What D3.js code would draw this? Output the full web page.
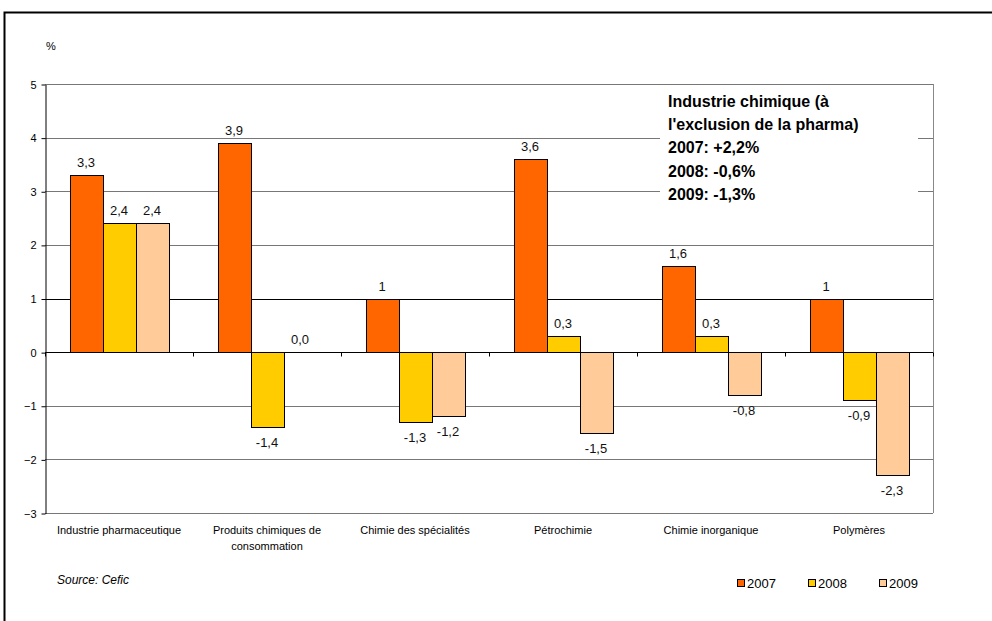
<!DOCTYPE html>
<html>
<head>
<meta charset="utf-8">
<script src="https://cdn.jsdelivr.net/npm/d3@7"></script>
<style>
body { margin: 0; background: #fff; }
svg { font-family: Arial, 'Liberation Sans', sans-serif; }
</style>
</head>
<body>
<script>
var categories = [['Industrie pharmaceutique'], ['Produits chimiques de', 'consommation'], ['Chimie des spécialités'], ['Pétrochimie'], ['Chimie inorganique'], ['Polymères']]
var years = ['2007', '2008', '2009']
var values2007 = [3.3, 3.9, 1, 3.6, 1.6, 1]
var values2008 = [2.4, -1.4, -1.3, 0.3, 0.3, -0.9]
var values2009 = [2.4, 0.0, -1.2, -1.5, -0.8, -2.3]
var labels2007 = ['3,3', '3,9', '1', '3,6', '1,6', '1']
var labels2008 = ['2,4', '-1,4', '-1,3', '0,3', '0,3', '-0,9']
var labels2009 = ['2,4', '0,0', '-1,2', '-1,5', '-0,8', '-2,3']
var yTicks = [5, 4, 3, 2, 1, 0, -1, -2, -3]
var noteLines = ['Industrie chimique (à', "l'exclusion de la pharma)", '2007: +2,2%', '2008: -0,6%', '2009: -1,3%']

var series = [values2007, values2008, values2009]
var seriesLabels = [labels2007, labels2008, labels2009]
var colors = d3.scaleOrdinal().domain(years).range(['#FF6600', '#FFCC00', '#FFCC99'])

var _width = 992, _height = 621
var _left = 45, _right = 933, _top = 84, _bottom = 513

var svg = d3.select('body').append('svg')
    .attr('width', _width)
    .attr('height', _height)

// cadre extérieur
svg.append('path')
    .attr('d', 'M4.5,' + _height + ' L4.5,12.5 L' + _width + ',12.5')
    .attr('fill', 'none')
    .attr('stroke', '#000')
    .attr('stroke-width', 2)

var y = d3.scaleLinear().domain([-3, 5]).range([_bottom, _top])
var x0 = d3.scaleBand().domain(d3.range(categories.length)).range([_left, _right])
    .paddingInner(0).paddingOuter(0)
var x1 = d3.scaleBand().domain(years).range([24.5, x0.bandwidth() - 24.5])

// grille
svg.append('g').selectAll('line')
    .data(yTicks.filter(d => d !== 0))
    .enter().append('line')
    .attr('x1', _left).attr('x2', _right)
    .attr('y1', d => Math.round(y(d)) + 0.5).attr('y2', d => Math.round(y(d)) + 0.5)
    .attr('stroke', d => d === 1 ? '#000' : '#777')
    .attr('stroke-width', 1)

// bord droit zone de tracé
svg.append('line')
    .attr('x1', _right + 0.5).attr('x2', _right + 0.5)
    .attr('y1', _top).attr('y2', _bottom)
    .attr('stroke', '#888')

// axe Y
var yAxis = svg.append('g')
    .attr('transform', 'translate(' + (_left + 0.5) + ',0.5)')
    .call(d3.axisLeft(y).tickValues(yTicks).tickSize(4).tickSizeOuter(0).tickPadding(5).tickFormat(d3.format('d')))
yAxis.select('.domain').attr('stroke', '#000')
yAxis.selectAll('text').attr('font-size', 11).attr('fill', '#000')
yAxis.selectAll('.tick line').attr('stroke', '#000')

svg.append('text')
    .attr('x', 46).attr('y', 50)
    .attr('font-size', 11)
    .text('%')

// barres
var groups = svg.append('g').selectAll('g.cat')
    .data(categories.map((c, i) => i))
    .enter().append('g')
    .attr('class', 'cat')
    .attr('transform', i => 'translate(' + x0(i) + ',0)')

groups.selectAll('rect')
    .data(i => years.map((yr, k) => ({ year: yr, value: series[k][i], label: seriesLabels[k][i] })))
    .enter().append('rect')
    .attr('x', d => Math.round(x1(d.year)) + 0.5)
    .attr('width', Math.round(x1.bandwidth()))
    .attr('y', d => Math.round(y(Math.max(0, d.value))) + 0.5)
    .attr('height', d => Math.abs(Math.round(y(d.value)) - Math.round(y(0))))
    .attr('fill', d => colors(d.year))
    .attr('stroke', d => d.value === 0 ? 'none' : '#000')
    .attr('stroke-width', 1)

groups.selectAll('text.val')
    .data(i => years.map((yr, k) => ({ year: yr, value: series[k][i], label: seriesLabels[k][i] })))
    .enter().append('text')
    .attr('class', 'val')
    .attr('x', d => x1(d.year) + x1.bandwidth() / 2)
    .attr('y', d => d.value >= 0 ? y(d.value) - 8 : y(d.value) + 20)
    .attr('text-anchor', 'middle')
    .attr('font-size', 13)
    .attr('fill', '#111')
    .text(d => d.label)

// axe X au niveau de zéro
var xAxis = svg.append('g')
    .attr('transform', 'translate(0,' + (Math.round(y(0)) + 0.5) + ')')
xAxis.append('line')
    .attr('x1', _left).attr('x2', _right)
    .attr('stroke', '#000')
xAxis.selectAll('line.tick')
    .data(d3.range(categories.length + 1))
    .enter().append('line')
    .attr('class', 'tick')
    .attr('x1', i => Math.round(_left + i * x0.step()) + 0.5)
    .attr('x2', i => Math.round(_left + i * x0.step()) + 0.5)
    .attr('y1', 0).attr('y2', 4)
    .attr('stroke', '#000')

// libellés catégories
svg.append('g').selectAll('text')
    .data(categories)
    .enter().append('text')
    .attr('x', (d, i) => x0(i) + x0.bandwidth() / 2)
    .attr('y', 534)
    .attr('text-anchor', 'middle')
    .attr('font-size', 11)
    .each(function (d) {
        d3.select(this).selectAll('tspan')
            .data(d)
            .enter().append('tspan')
            .attr('x', d3.select(this).attr('x'))
            .attr('dy', (t, j) => j === 0 ? 0 : 16)
            .text(t => t)
    })

// encadré
var noteG = svg.append('g')
noteG.append('rect')
    .attr('x', 660).attr('y', 88)
    .attr('width', 258).attr('height', 118)
    .attr('fill', '#fff')
noteG.selectAll('text')
    .data(noteLines)
    .enter().append('text')
    .attr('x', 668)
    .attr('y', (d, i) => 107 + i * 23.2)
    .attr('font-size', 16)
    .attr('font-weight', 'bold')
    .text(d => d)

// source
svg.append('text')
    .attr('x', 57).attr('y', 584)
    .attr('font-size', 12)
    .attr('font-style', 'italic')
    .text('Source: Cefic')

// légende
var legend = svg.append('g').selectAll('g')
    .data(years)
    .enter().append('g')
    .attr('transform', (d, i) => 'translate(' + (737 + i * 71) + ',579)')
legend.append('rect')
    .attr('x', 0.5).attr('y', 0.5)
    .attr('width', 7).attr('height', 7)
    .attr('fill', d => colors(d))
    .attr('stroke', '#000')
legend.append('text')
    .attr('x', 10).attr('y', 9)
    .attr('font-size', 13)
    .text(d => d)
</script>
</body>
</html>
